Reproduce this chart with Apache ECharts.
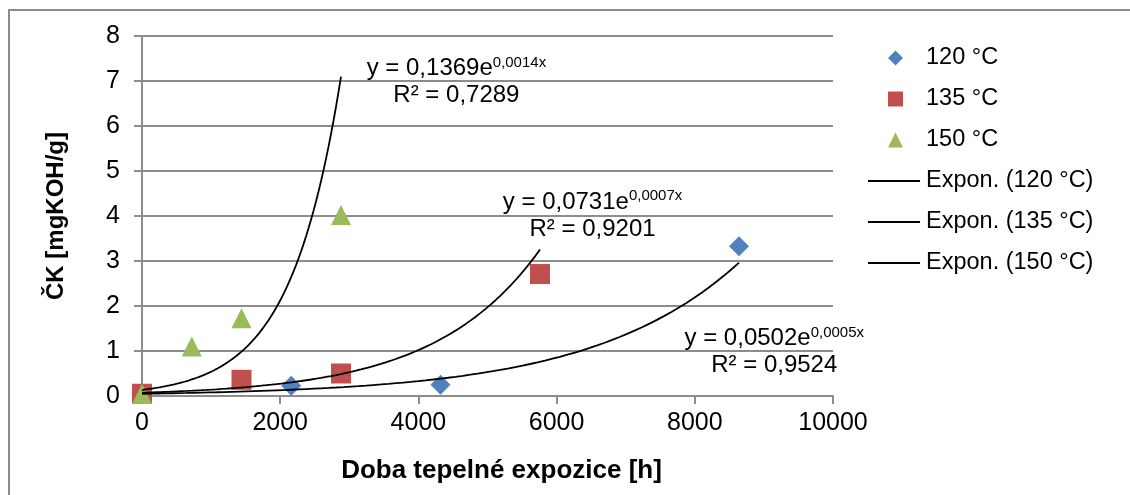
<!DOCTYPE html>
<html>
<head>
<meta charset="utf-8">
<script src="https://cdn.jsdelivr.net/npm/echarts@6/dist/echarts.min.js"></script>
<style>
html, body { margin: 0; padding: 0; background: #fff; }
#chart { width: 1130px; height: 495px; }
</style>
</head>
<body>
<div id="chart"></div>
<script>
// Acid number (ČK) vs. thermal exposure time, three ageing temperatures
const seriesNames = ['120 °C', '135 °C', '150 °C'];
const hours120 = [0, 2160, 4320, 8640];
const acid120  = [0.04, 0.23, 0.25, 3.33];
const hours135 = [0, 1440, 2880, 5760];
const acid135  = [0.05, 0.36, 0.50, 2.71];
const hours150 = [0, 720, 1440, 2880];
const acid150  = [0.05, 1.10, 1.73, 4.02];

// Exponential trend y = a·e^(k·x) for each temperature
const trendA  = [0.0502, 0.0731, 0.1369];
const trendK  = [0.000472, 0.000659, 0.001371];
const trendR2 = [0.9524, 0.9201, 0.7289];
// where each equation label sits (data units)
const trendLabelAt = [[9150, 0.98], [6520, 4.01], [4550, 6.97]];

const xTicks = [0, 2000, 4000, 6000, 8000, 10000];
const yTicks = [0, 1, 2, 3, 4, 5, 6, 7, 8];

const colors = ['#4F81BD', '#C0504D', '#9BBB59'];
const symbols = ['diamond', 'rect', 'triangle'];
const hours = [hours120, hours135, hours150];
const acids = [acid120, acid135, acid150];

const FONT = '"Liberation Sans", Arial, sans-serif';
const comma = (v) => v.toFixed(4).replace('.', ',');
const trendName = (n) => 'Expon. (' + n + ')';

function trendCurve(i) {
  const xs = hours[i];
  const xEnd = xs[xs.length - 1];
  const pts = [];
  const n = 80;
  for (let j = 0; j <= n; j++) {
    const x = xEnd * j / n;
    pts.push([x, trendA[i] * Math.exp(trendK[i] * x)]);
  }
  return pts;
}

const scatterSeries = seriesNames.map((name, i) => ({
  name: name,
  type: 'scatter',
  symbol: symbols[i],
  symbolSize: 20,
  itemStyle: { color: colors[i], opacity: 1 },
  data: hours[i].map((h, j) => [h, acids[i][j]]),
  z: 2
}));

const trendSeries = seriesNames.map((name, i) => ({
  name: trendName(name),
  type: 'line',
  showSymbol: false,
  symbol: 'none',
  lineStyle: { color: '#000', width: 1.8 },
  itemStyle: { color: '#000' },
  data: trendCurve(i),
  z: 3,
  markPoint: {
    symbol: 'circle',
    symbolSize: 0,
    itemStyle: { color: 'transparent' },
    data: [{
      coord: trendLabelAt[i],
      label: {
        show: true,
        position: 'inside',
        align: 'center',
        verticalAlign: 'middle',
        formatter: '{m|y = ' + comma(trendA[i]) + 'e}{s|' + comma(trendK[i]) + 'x}\n{m|R² = ' + comma(trendR2[i]) + '}',
        rich: {
          m: { fontFamily: FONT, fontSize: 24, lineHeight: 27, color: '#000' },
          s: { fontFamily: FONT, fontSize: 15, lineHeight: 15, color: '#000', verticalAlign: 'top' }
        }
      }
    }]
  }
}));

const legendText = { fontFamily: FONT, fontSize: 23.5, lineHeight: 24, color: '#000' };

const chart = echarts.init(document.getElementById('chart'), null, { renderer: 'canvas' });
chart.setOption({
  animation: false,
  backgroundColor: '#fff',
  textStyle: { fontFamily: FONT },
  graphic: [{
    type: 'rect',
    shape: { x: 9, y: 10, width: 1300, height: 700 },
    style: { fill: 'none', stroke: '#8c8c8c', lineWidth: 2 },
    silent: true,
    z: -10
  }],
  grid: { left: 142, right: 297, top: 36, bottom: 99, containLabel: false },
  legend: [{
    orient: 'vertical',
    left: 888,
    top: 46,
    padding: 0,
    itemWidth: 15,
    itemHeight: 15,
    itemGap: 17,
    textStyle: Object.assign({ padding: [0, 0, 0, 18] }, legendText),
    data: seriesNames.map((n, i) => ({ name: n, icon: symbols[i] }))
  }, {
    orient: 'vertical',
    left: 868,
    top: 169,
    padding: 0,
    itemWidth: 52,
    itemHeight: 2,
    itemGap: 17,
    textStyle: Object.assign({ padding: [0, 0, 0, 1] }, legendText),
    data: seriesNames.map(n => ({ name: trendName(n), icon: 'rect' }))
  }],
  xAxis: {
    type: 'value',
    min: xTicks[0],
    max: xTicks[xTicks.length - 1],
    interval: xTicks[1] - xTicks[0],
    name: 'Doba tepelné expozice [h]',
    nameLocation: 'middle',
    nameGap: 62,
    nameTextStyle: { fontFamily: FONT, fontSize: 26, fontWeight: 'bold', color: '#000', padding: [0, 0, 0, 28] },
    axisLine: { show: true, onZero: false, lineStyle: { color: '#8c8c8c', width: 2 } },
    axisTick: { show: true, length: 8, inside: false, lineStyle: { color: '#8c8c8c', width: 2 } },
    axisLabel: { fontFamily: FONT, fontSize: 25, color: '#000', margin: 15, formatter: (v) => String(v) },
    splitLine: { show: false }
  },
  yAxis: {
    type: 'value',
    min: yTicks[0],
    max: yTicks[yTicks.length - 1],
    interval: yTicks[1] - yTicks[0],
    name: 'ČK [mgKOH/g]',
    nameLocation: 'middle',
    nameGap: 74,
    nameRotate: 90,
    nameTextStyle: { fontFamily: FONT, fontSize: 24, fontWeight: 'bold', color: '#000' },
    axisLine: { show: true, onZero: false, lineStyle: { color: '#8c8c8c', width: 2 } },
    axisTick: { show: true, length: 8, inside: false, lineStyle: { color: '#8c8c8c', width: 2 } },
    axisLabel: { fontFamily: FONT, fontSize: 25, color: '#000', margin: 22, formatter: (v) => String(v) },
    splitLine: { show: true, lineStyle: { color: '#8c8c8c', width: 2 } }
  },
  series: scatterSeries.concat(trendSeries)
});
</script>
</body>
</html>
